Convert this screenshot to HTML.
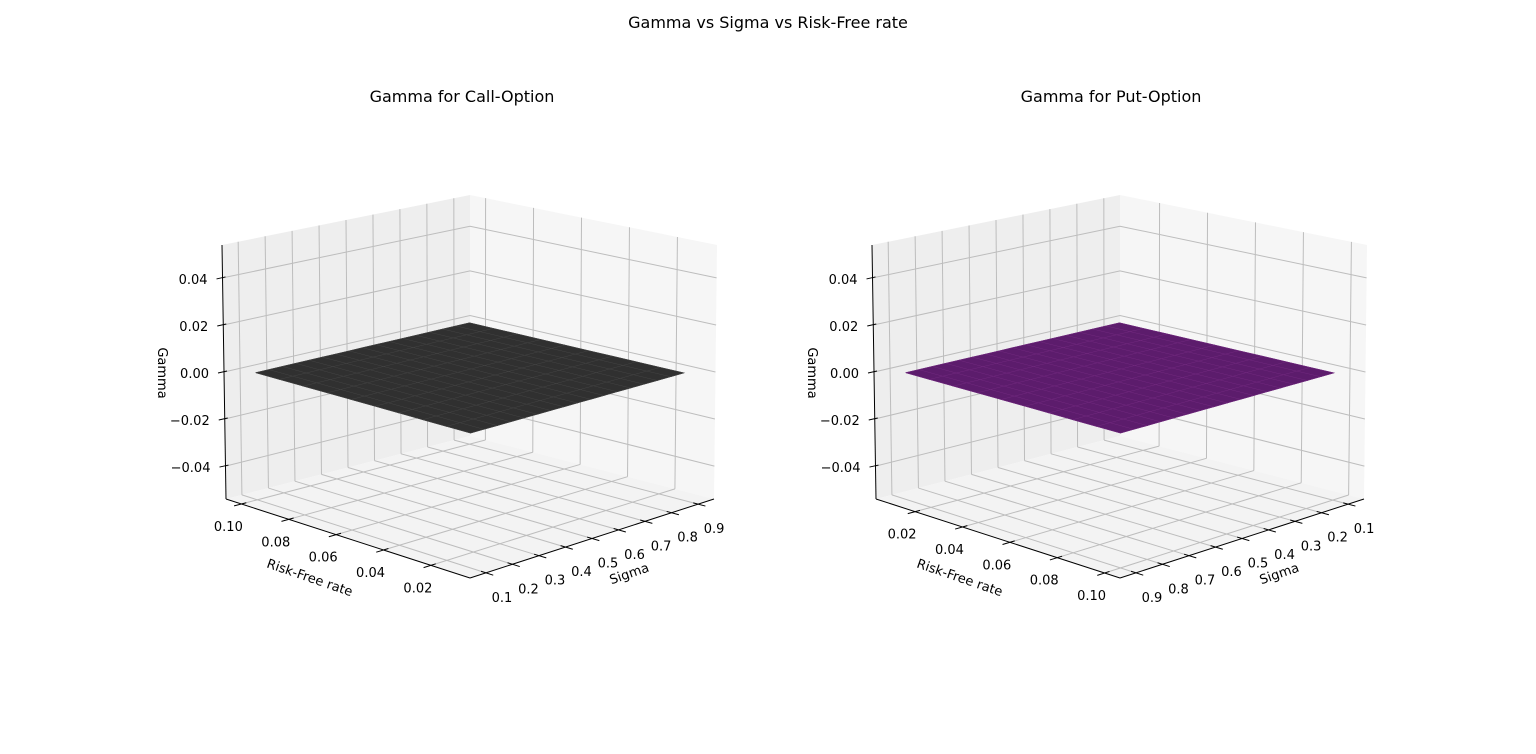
<!DOCTYPE html>
<html><head><meta charset="utf-8">
<style>
html,body{margin:0;padding:0;background:#fff;}
svg{display:block;font-family:"DejaVu Sans","Liberation Sans",sans-serif;}
</style></head>
<body>
<svg id="fig" width="1536" height="754" viewBox="0 0 1536 754">
<rect width="1536" height="754" fill="#fff"/>
<text x="768" y="28" text-anchor="middle" font-size="16" fill="#000">Gamma vs Sigma vs Risk-Free rate</text>
<text x="462" y="102" text-anchor="middle" font-size="16" fill="#000">Gamma for Call-Option</text>
<text x="1111" y="102" text-anchor="middle" font-size="16" fill="#000">Gamma for Put-Option</text>
<g id="left"></g>
<g id="right"></g>
</svg>
<script>
// ---- data ----
const sigmaVals = [0.1,0.15,0.2,0.25,0.3,0.35,0.4,0.45,0.5,0.55,0.6,0.65,0.7,0.75,0.8,0.85,0.9];
const rateVals = [0.01,0.02,0.03,0.04,0.05,0.06,0.07,0.08,0.09,0.10];
const gammaCall = [
[0,0,0,0,0,0,0,0,0,0,0,0,0,0,0,0,0],
[0,0,0,0,0,0,0,0,0,0,0,0,0,0,0,0,0],
[0,0,0,0,0,0,0,0,0,0,0,0,0,0,0,0,0],
[0,0,0,0,0,0,0,0,0,0,0,0,0,0,0,0,0],
[0,0,0,0,0,0,0,0,0,0,0,0,0,0,0,0,0],
[0,0,0,0,0,0,0,0,0,0,0,0,0,0,0,0,0],
[0,0,0,0,0,0,0,0,0,0,0,0,0,0,0,0,0],
[0,0,0,0,0,0,0,0,0,0,0,0,0,0,0,0,0],
[0,0,0,0,0,0,0,0,0,0,0,0,0,0,0,0,0],
[0,0,0,0,0,0,0,0,0,0,0,0,0,0,0,0,0]];
const gammaPut = [
[0,0,0,0,0,0,0,0,0,0,0,0,0,0,0,0,0],
[0,0,0,0,0,0,0,0,0,0,0,0,0,0,0,0,0],
[0,0,0,0,0,0,0,0,0,0,0,0,0,0,0,0,0],
[0,0,0,0,0,0,0,0,0,0,0,0,0,0,0,0,0],
[0,0,0,0,0,0,0,0,0,0,0,0,0,0,0,0,0],
[0,0,0,0,0,0,0,0,0,0,0,0,0,0,0,0,0],
[0,0,0,0,0,0,0,0,0,0,0,0,0,0,0,0,0],
[0,0,0,0,0,0,0,0,0,0,0,0,0,0,0,0,0],
[0,0,0,0,0,0,0,0,0,0,0,0,0,0,0,0,0],
[0,0,0,0,0,0,0,0,0,0,0,0,0,0,0,0,0]];
const sigmaTicks = [0.1,0.2,0.3,0.4,0.5,0.6,0.7,0.8,0.9];
const sigmaTickLabels = ["0.1","0.2","0.3","0.4","0.5","0.6","0.7","0.8","0.9"];
const rateTicks = [0.02,0.04,0.06,0.08,0.10];
const rateTickLabels = ["0.02","0.04","0.06","0.08","0.10"];
const gammaTicks = [-0.04,-0.02,0,0.02,0.04];
const gammaTickLabels = ["\u22120.04","\u22120.02","0.00","0.02","0.04"];
const sigmaLim = [0.04,0.96];
const rateLim = [0.0035,0.1065];
const gammaLim = [-0.054,0.054];

const NS="http://www.w3.org/2000/svg";
function mk(tag,attrs,parent){const e=document.createElementNS(NS,tag);for(const k in attrs)e.setAttribute(k,attrs[k]);parent.appendChild(e);return e;}

function drawPanel(g, ox, flip, gamma, fillC, strokeC){
  const BF=[470+ox,578],BR=[714+ox,499],BL=[226+ox,499],BB=[470+ox,436];
  const TF=[470+ox,306],TR=[717+ox,245],TL=[222+ox,245],TB=[470+ox,195];
  function bil(a,b,c,d,su,sv){return [
    a[0]*(1-su)*(1-sv)+b[0]*su*(1-sv)+c[0]*(1-su)*sv+d[0]*su*sv,
    a[1]*(1-su)*(1-sv)+b[1]*su*(1-sv)+c[1]*(1-su)*sv+d[1]*su*sv];}
  function P(su,sv,w){const b=bil(BF,BR,BL,BB,su,sv),t=bil(TF,TR,TL,TB,su,sv);return [b[0]+(t[0]-b[0])*w,b[1]+(t[1]-b[1])*w];}
  const xs=s=>{const f=(s-sigmaLim[0])/(sigmaLim[1]-sigmaLim[0]);return flip?1-f:f;};
  const ys=r=>{const f=(r-rateLim[0])/(rateLim[1]-rateLim[0]);return flip?1-f:f;};
  const zs=z=>(z-gammaLim[0])/(gammaLim[1]-gammaLim[0]);
  const pts=a=>a.map(p=>p[0].toFixed(1)+","+p[1].toFixed(1)).join(" ");
  let e;
  e=mk("polygon",{points:pts([P(0,1,0),P(1,1,0),P(1,1,1),P(0,1,1)]),fill:"#eeeeee"},g);
  
  
  e=mk("polygon",{points:pts([P(1,1,0),P(1,0,0),P(1,0,1),P(1,1,1)]),fill:"#f6f6f6"},g);
  
  
  e=mk("polygon",{points:pts([P(0,0,0),P(1,0,0),P(1,1,0),P(0,1,0)]),fill:"#f3f3f3"},g);
  
  
  const gc="#bdbdbd";
  sigmaTicks.forEach(s=>{const u=xs(s);
    let a=P(u,1,0),b=P(u,1,1);
    e=mk("line",{x1:a[0],y1:a[1],x2:b[0],y2:b[1],stroke:gc,"stroke-width":1},g);
    
    
    a=P(u,0,0);b=P(u,1,0);
    e=mk("line",{x1:a[0],y1:a[1],x2:b[0],y2:b[1],stroke:gc,"stroke-width":1},g);
    
    
  });
  rateTicks.forEach(r=>{const v=ys(r);
    let a=P(1,v,0),b=P(1,v,1);
    e=mk("line",{x1:a[0],y1:a[1],x2:b[0],y2:b[1],stroke:gc,"stroke-width":1},g);
    
    
    a=P(0,v,0);b=P(1,v,0);
    e=mk("line",{x1:a[0],y1:a[1],x2:b[0],y2:b[1],stroke:gc,"stroke-width":1},g);
    
    
  });
  gammaTicks.forEach(z=>{const w=zs(z);
    const a=P(0,1,w),b=P(1,1,w),c=P(1,0,w);
    e=mk("polyline",{points:pts([a,b,c]),fill:"none",stroke:gc,"stroke-width":1},g);
    
    
  });
  let a=P(0,1,0),b=P(0,1,1);
  e=mk("line",{x1:a[0],y1:a[1],x2:b[0],y2:b[1],stroke:"#000","stroke-width":1},g);
  
  
  a=P(0,0,0);b=P(0,1,0);
  e=mk("line",{x1:a[0],y1:a[1],x2:b[0],y2:b[1],stroke:"#000","stroke-width":1},g);
  
  
  a=P(0,0,0);b=P(1,0,0);
  e=mk("line",{x1:a[0],y1:a[1],x2:b[0],y2:b[1],stroke:"#000","stroke-width":1},g);
  
  
  gammaTicks.forEach((z,i)=>{const w=zs(z);const p=P(0,1,w);
    e=mk("line",{x1:p[0]-6,y1:p[1]+1,x2:p[0]+3,y2:p[1]-1,stroke:"#000","stroke-width":1},g);
    
    
    e=mk("text",{x:p[0]-15,y:p[1]+6,"text-anchor":"end","font-size":13,fill:"#000"},g);
    e.textContent=gammaTickLabels[i];
    
    
  });
  rateTicks.forEach((r,i)=>{const v=ys(r);const p1=P(-0.03,v,0),p2=P(0.02,v,0);
    e=mk("line",{x1:p1[0],y1:p1[1],x2:p2[0],y2:p2[1],stroke:"#000","stroke-width":1},g);
    
    
    const p=P(0,v,0);
    e=mk("text",{x:p[0]-13,y:p[1]+27,"text-anchor":"middle","font-size":13,fill:"#000"},g);
    e.textContent=rateTickLabels[i];
    
    
  });
  sigmaTicks.forEach((s,i)=>{const u=xs(s);const p1=P(u,-0.03,0),p2=P(u,0.02,0);
    e=mk("line",{x1:p1[0],y1:p1[1],x2:p2[0],y2:p2[1],stroke:"#000","stroke-width":1},g);
    
    
    const p=P(u,0,0);
    e=mk("text",{x:p[0]+16,y:p[1]+29,"text-anchor":"middle","font-size":13,fill:"#000"},g);
    e.textContent=sigmaTickLabels[i];
    
    
  });
  e=mk("text",{x:310+ox,y:582,"text-anchor":"middle","font-size":13,fill:"#000",transform:`rotate(19 ${310+ox} 577)`},g);
  e.textContent="Risk-Free rate";
  
  
  e=mk("text",{x:629+ox,y:578,"text-anchor":"middle","font-size":13,fill:"#000",transform:`rotate(-19 ${629+ox} 573)`},g);
  e.textContent="Sigma";
  
  
  e=mk("text",{x:163+ox,y:378,"text-anchor":"middle","font-size":13,fill:"#000",transform:`rotate(90 ${163+ox} 373)`},g);
  e.textContent="Gamma";
  
  
  const sg=mk("g",{},g);
  
  
  for(let j=0;j<rateVals.length-1;j++){
    for(let i=0;i<sigmaVals.length-1;i++){
      const q=[P(xs(sigmaVals[i]),ys(rateVals[j]),zs(gamma[j][i])),
               P(xs(sigmaVals[i+1]),ys(rateVals[j]),zs(gamma[j][i+1])),
               P(xs(sigmaVals[i+1]),ys(rateVals[j+1]),zs(gamma[j+1][i+1])),
               P(xs(sigmaVals[i]),ys(rateVals[j+1]),zs(gamma[j+1][i]))];
      e=mk("polygon",{points:pts(q),fill:fillC,stroke:fillC,"stroke-width":0.6},sg);
      
      
    }
  }
  for(let j=0;j<rateVals.length;j++){
    const row=sigmaVals.map((s,i)=>P(xs(s),ys(rateVals[j]),zs(gamma[j][i])));
    e=mk("polyline",{points:pts(row),fill:"none",stroke:strokeC,"stroke-width":0.5},sg);
    
    
  }
  for(let i=0;i<sigmaVals.length;i++){
    const col=rateVals.map((r,j)=>P(xs(sigmaVals[i]),ys(r),zs(gamma[j][i])));
    e=mk("polyline",{points:pts(col),fill:"none",stroke:strokeC,"stroke-width":0.5},sg);
    
    
  }
}
drawPanel(document.getElementById('left'),0,false,gammaCall,"#303030","#444444");
drawPanel(document.getElementById('right'),650,true,gammaPut,"#5c1c6c","#72297f");
</script>
</body></html>
